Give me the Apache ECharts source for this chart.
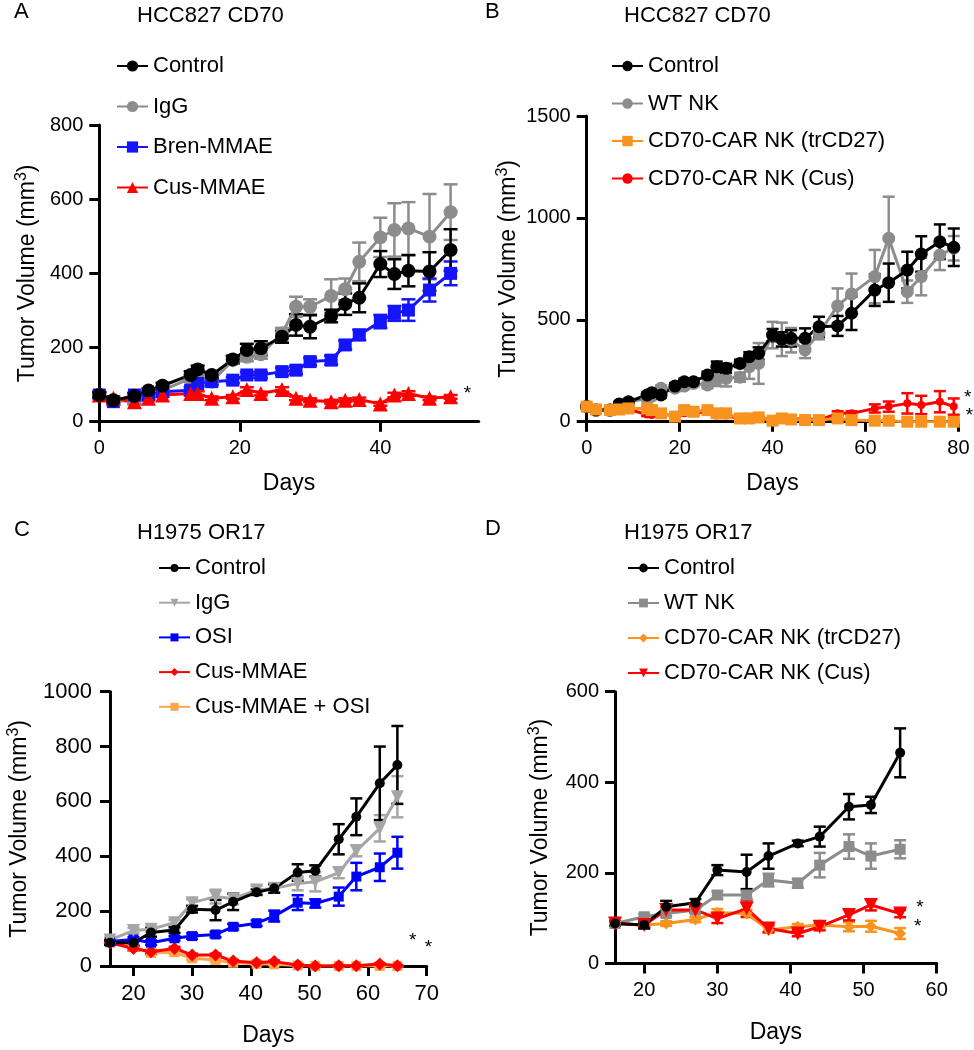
<!DOCTYPE html>
<html>
<head>
<meta charset="utf-8">
<style>
html,body{margin:0;padding:0;background:#fff;}
#chart{width:974px;height:1050px;}
</style>
<script src="https://cdn.jsdelivr.net/npm/echarts@6/dist/echarts.min.js"></script>
</head>
<body>
<div id="chart"></div>
<script>
// ---------------- Panel A : HCC827 CD70 (ADC) ----------------
const daysA = [0,2,5,7,9,13,14,16,19,21,23,26,28,30,33,35,37,40,42,44,47,50];
const aControl = [72,58,69,84,97,126,141,126,168,193,198,229,261,256,285,317,334,425,398,407,405,463];
const aControlErr = [8,6,8,6,8,10,10,8,10,17,19,16,29,31,17,29,39,35,40,42,52,56];
const aIgG = [72,58,54,72,85,117,123,108,166,175,182,238,310,310,339,357,431,497,517,521,499,565];
const aIgGErr = [8,6,8,8,8,10,10,10,10,12,12,15,27,20,45,29,52,53,72,71,115,75];
const aBren = [72,54,72,72,81,85,103,108,112,126,126,135,139,162,166,207,234,270,292,301,355,400];
const aBrenErr = [8,6,6,6,6,8,8,8,8,8,8,10,10,10,12,12,14,18,20,29,31,32];
const aCus = [72,63,54,63,72,76,76,63,67,87,76,87,63,58,54,58,60,48,72,76,63,67];
const aCusErr = [6,5,5,5,5,6,6,5,5,6,5,6,5,5,5,5,5,5,6,6,5,5];
const aStars = [[52.4,75]];
const aXTicks = [0,20,40];

// ---------------- Panel B : HCC827 CD70 (CAR NK) ----------------
const daysB = [0,2,5,7,9,13,14,16,19,21,23,26,28,30,33,35,37,40,42,44,47,50,54,57,62,65,69,72,76,79];
const bControl = [74,57,57,87,98,131,142,131,175,196,196,229,270,262,286,319,335,425,404,409,409,466,470,532,646,682,744,823,883,856];
const bControlErr = [10,8,8,10,10,12,12,12,14,14,14,16,25,22,18,22,30,30,35,40,49,49,49,82,78,94,90,87,85,92];
const bWT = [74,57,57,80,95,115,125,164,164,175,188,180,205,213,218,270,286,425,404,400,352,434,568,627,712,900,638,712,818,851];
const bWTErr = [10,8,8,10,10,12,12,14,14,14,14,16,30,40,22,60,100,65,82,60,40,30,86,100,131,204,55,92,74,60];
const bTr = [74,60,57,60,65,65,57,41,25,57,49,57,41,41,16,16,21,5,16,11,8,8,16,8,5,5,0,0,0,0];
const bTrErr = [8,8,8,8,8,10,20,12,10,12,10,10,10,10,8,8,8,6,8,6,6,6,8,6,5,5,4,4,4,4];
const bCus = [74,57,57,60,60,35,33,41,25,41,41,49,30,30,16,16,21,8,16,11,16,8,41,41,65,74,90,82,98,74];
const bCusErr = [8,6,6,6,6,8,8,8,6,8,8,8,6,6,5,5,5,5,5,5,5,5,10,10,20,25,50,45,52,40];
const bStars = [[82,118],[82.4,30]];
const bXTicks = [0,20,40,60,80];

// ---------------- Panel C : H1975 OR17 (ADC) ----------------
const daysC = [16,20,23,27,30,34,37,41,44,48,51,55,58,62,65];
const cControl = [85,85,122,131,207,204,234,269,283,341,347,462,544,666,733];
const cControlErr = [8,10,15,10,12,37,30,10,16,30,20,55,67,134,142];
const cIgG = [95,129,134,158,231,253,245,277,283,301,307,340,420,502,617];
const cIgGErr = [8,10,10,10,12,25,20,15,15,25,35,20,20,48,75];
const cOSI = [89,97,85,101,109,115,143,156,182,231,228,253,326,360,413];
const cOSIErr = [8,8,8,8,10,10,10,10,20,27,15,33,50,50,58];
const cCus = [85,64,52,64,40,40,18,12,16,4,0,1,1,7,1];
const cCusErr = [8,8,6,6,5,5,4,4,4,3,2,2,2,3,2];
const cCusOSI = [85,70,48,50,28,22,12,8,6,2,0,0,0,0,0];
const cCusOSIErr = [8,8,6,6,5,5,4,3,3,2,2,2,2,2,2];
const cStars = [[67.6,92],[70.3,66]];
const cXTicks = [20,30,40,50,60,70];

// ---------------- Panel D : H1975 OR17 (CAR NK) ----------------
const daysD = [16,20,23,27,30,34,37,41,44,48,51,55];
const dControl = [88,85,125,134,206,202,237,265,280,346,350,465];
const dControlErr = [5,8,13,8,11,38,28,6,22,28,18,54];
const dWT = [88,103,110,118,151,151,184,177,217,258,237,252];
const dWTErr = [5,6,6,6,8,8,14,10,27,27,28,20];
const dTr = [88,85,88,97,112,110,74,81,85,81,82,66];
const dTrErr = [5,5,5,6,8,8,6,6,6,10,12,12];
const dCus = [88,85,118,118,99,121,77,66,81,107,129,110];
const dCusErr = [5,5,6,6,10,18,8,6,8,12,12,8];
const dStars = [[57.7,122],[57.4,82]];
const dXTicks = [20,30,40,50,60];

const FONT = 'Liberation Sans, Arial, Helvetica, sans-serif';

const grids = [
  {left: 99.3, top: 125, width: 379.4, height: 296.7},
  {left: 586.7, top: 116, width: 371.7, height: 305.7},
  {left: 110, top: 691.7, width: 316.7, height: 274.3},
  {left: 615, top: 691.7, width: 321.7, height: 271.7}
].map(g => Object.assign({containLabel: false, outerBoundsMode: 'none', show: false}, g));

function xAxisCfg(idx, min, max, ticks, fs, nameGap) {
  return {
    gridIndex: idx, type: 'value', min: min, max: max,
    name: 'Days', nameLocation: 'middle', nameGap: nameGap,
    nameTextStyle: {fontFamily: FONT, fontSize: 23, color: '#000'},
    axisLine: {show: true, onZero: false, lineStyle: {color: '#000', width: 3}},
    axisTick: {show: true, length: 10, lineStyle: {color: '#000', width: 3}, customValues: ticks},
    axisLabel: {color: '#000', fontFamily: FONT, fontSize: fs, margin: 17, customValues: ticks,
      formatter: v => String(v)},
    splitLine: {show: false}
  };
}
function yAxisCfg(idx, max, interval, fs, nameGap, margin) {
  return {
    gridIndex: idx, type: 'value', min: 0, max: max, interval: interval,
    name: 'Tumor Volume (mm{s|3})', nameLocation: 'middle', nameGap: nameGap, nameRotate: 90,
    nameTextStyle: {fontFamily: FONT, fontSize: 23, color: '#000', lineHeight: 28,
      rich: {s: {fontFamily: FONT, fontSize: 16, color: '#000', verticalAlign: 'top', lineHeight: 16}}},
    axisLine: {show: true, onZero: false, lineStyle: {color: '#000', width: 3}},
    axisTick: {show: true, length: 10, lineStyle: {color: '#000', width: 3}},
    axisLabel: {color: '#000', fontFamily: FONT, fontSize: fs, margin: margin,
      formatter: v => String(v)},
    splitLine: {show: false}
  };
}

const series = [];
function addSeries(panel, idx, name, days, vals, errs, color, symbol, size, rotate, cap) {
  series.push({
    type: 'custom', name: panel + '|' + name + '-err', xAxisIndex: idx, yAxisIndex: idx,
    data: days.map((d, i) => [d, vals[i], errs[i]]),
    encode: {x: 0, y: 1}, silent: true,
    renderItem: function (params, api) {
      const x = api.value(0), y = api.value(1), e = api.value(2);
      const hi = api.coord([x, y + e]);
      const lo = api.coord([x, y - e]);
      const st = {stroke: color, lineWidth: 2.5};
      return {type: 'group', children: [
        {type: 'line', shape: {x1: hi[0], y1: hi[1], x2: lo[0], y2: lo[1]}, style: st},
        {type: 'line', shape: {x1: hi[0] - cap, y1: hi[1], x2: hi[0] + cap, y2: hi[1]}, style: st},
        {type: 'line', shape: {x1: lo[0] - cap, y1: lo[1], x2: lo[0] + cap, y2: lo[1]}, style: st}
      ]};
    }
  });
  series.push({
    type: 'line', name: panel + '|' + name, xAxisIndex: idx, yAxisIndex: idx,
    data: days.map((d, i) => [d, vals[i]]),
    symbol: symbol, symbolSize: size, symbolRotate: rotate || 0,
    showAllSymbol: true, animation: false,
    lineStyle: {color: color, width: 3},
    itemStyle: {color: color, borderWidth: 0, opacity: 1},
    emphasis: {disabled: true}
  });
}
function addStars(idx, stars) {
  series.push({
    type: 'custom', name: 'stars' + idx, xAxisIndex: idx, yAxisIndex: idx,
    data: stars, encode: {x: 0, y: 1}, silent: true,
    renderItem: function (params, api) {
      const p = api.coord([api.value(0), api.value(1)]);
      return {type: 'text', x: p[0], y: p[1], style: {text: '*', fill: '#000', fontSize: 19, fontFamily: FONT, align: 'center', verticalAlign: 'middle'}};
    }
  });
}

// Panel A
addSeries('A', 0, 'IgG', daysA, aIgG, aIgGErr, '#8c8c8c', 'circle', 14, 0, 7);
addSeries('A', 0, 'Bren-MMAE', daysA, aBren, aBrenErr, '#1414ff', 'rect', 13, 0, 7);
addSeries('A', 0, 'Cus-MMAE', daysA, aCus, aCusErr, '#ff0000', 'triangle', 15, 0, 7);
addSeries('A', 0, 'Control', daysA, aControl, aControlErr, '#000000', 'circle', 14, 0, 7);
addStars(0, aStars);
// Panel B
addSeries('B', 1, 'WT NK', daysB, bWT, bWTErr, '#8c8c8c', 'circle', 13, 0, 6);
addSeries('B', 1, 'Control', daysB, bControl, bControlErr, '#000000', 'circle', 13, 0, 6);
addSeries('B', 1, 'CD70-CAR NK (Cus)', daysB, bCus, bCusErr, '#ff0000', 'circle', 8, 0, 6);
addSeries('B', 1, 'CD70-CAR NK (trCD27)', daysB, bTr, bTrErr, '#f7931e', 'rect', 12, 0, 6);
addStars(1, bStars);
// Panel C
addSeries('C', 2, 'Cus-MMAE + OSI', daysC, cCusOSI, cCusOSIErr, '#ffa54a', 'rect', 10, 0, 6);
addSeries('C', 2, 'Cus-MMAE', daysC, cCus, cCusErr, '#ff0000', 'diamond', 13, 0, 6);
addSeries('C', 2, 'OSI', daysC, cOSI, cOSIErr, '#0000ff', 'rect', 10, 0, 6);
addSeries('C', 2, 'IgG', daysC, cIgG, cIgGErr, '#a6a6a8', 'triangle', 13, 180, 6);
addSeries('C', 2, 'Control', daysC, cControl, cControlErr, '#000000', 'circle', 10, 0, 6);
addStars(2, cStars);
// Panel D
addSeries('D', 3, 'WT NK', daysD, dWT, dWTErr, '#8c8c8c', 'rect', 11, 0, 6);
addSeries('D', 3, 'CD70-CAR NK (trCD27)', daysD, dTr, dTrErr, '#f7931e', 'diamond', 12, 0, 6);
addSeries('D', 3, 'CD70-CAR NK (Cus)', daysD, dCus, dCusErr, '#ff0000', 'triangle', 14, 180, 6);
addSeries('D', 3, 'Control', daysD, dControl, dControlErr, '#000000', 'circle', 10, 0, 6);
addStars(3, dStars);

function legendCfg(panel, names, left, top, gap, iw, ih) {
  return {
    data: names.map(n => panel + '|' + n), orient: 'vertical', left: left, top: top,
    itemGap: gap, itemWidth: iw, itemHeight: ih, padding: 0, selectedMode: false,
    formatter: n => n.slice(2),
    textStyle: {fontFamily: FONT, fontSize: 22, color: '#000'}
  };
}

function ttl(text, left, top, fs) {
  return {text: text, left: left, top: top, padding: 0,
    textStyle: {fontFamily: FONT, fontSize: fs, fontWeight: 'normal', color: '#000'}};
}

const option = {
  backgroundColor: '#ffffff',
  animation: false,
  title: [
    ttl('A', 14, 1, 22), ttl('HCC827 CD70', 137, 5, 22),
    ttl('B', 485, 1, 22), ttl('HCC827 CD70', 624, 5, 22),
    ttl('C', 14, 519, 22), ttl('H1975 OR17', 137, 522, 22),
    ttl('D', 485, 518, 22), ttl('H1975 OR17', 624, 522, 22)
  ],
  legend: [
    legendCfg('A', ['Control', 'IgG', 'Bren-MMAE', 'Cus-MMAE'], 116, 55, 18.5, 31, 14),
    legendCfg('B', ['Control', 'WT NK', 'CD70-CAR NK (trCD27)', 'CD70-CAR NK (Cus)'], 611, 55, 15.5, 31, 13),
    legendCfg('C', ['Control', 'IgG', 'OSI', 'Cus-MMAE', 'Cus-MMAE + OSI'], 158, 557, 12.7, 31, 10),
    legendCfg('D', ['Control', 'WT NK', 'CD70-CAR NK (trCD27)', 'CD70-CAR NK (Cus)'], 627, 557, 13, 31, 11)
  ],
  grid: grids,
  xAxis: [
    xAxisCfg(0, 0, 54, aXTicks, 20, 50),
    xAxisCfg(1, 0, 80, bXTicks, 20, 50),
    xAxisCfg(2, 16, 70, cXTicks, 22, 58),
    xAxisCfg(3, 16, 60, dXTicks, 20, 58)
  ],
  yAxis: [
    yAxisCfg(0, 800, 200, 20, 58, 16),
    yAxisCfg(1, 1500, 500, 20, 56, 16),
    yAxisCfg(2, 1000, 200, 22, 76, 18),
    yAxisCfg(3, 600, 200, 20, 60, 16)
  ],
  series: series
};

const chart = echarts.init(document.getElementById('chart'), null, {renderer: 'canvas'});
chart.setOption(option);
</script>
</body>
</html>
